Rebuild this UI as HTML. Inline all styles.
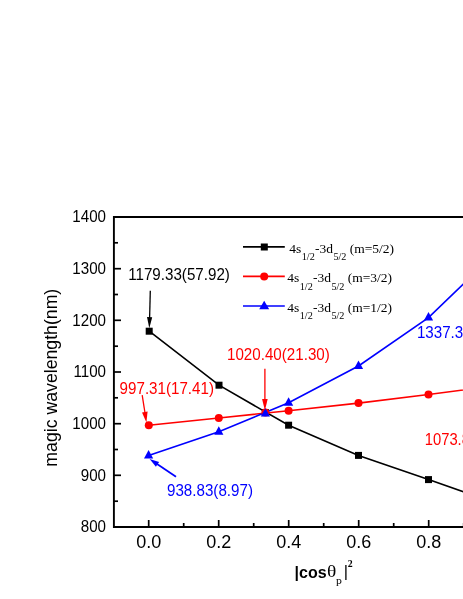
<!DOCTYPE html>
<html><head><meta charset="utf-8"><title>chart</title>
<style>
html,body{margin:0;padding:0;background:#fff;}
body{width:463px;height:599px;overflow:hidden;}
svg{display:block;will-change:transform;}
text{font-family:"Liberation Sans",sans-serif;}
.s{font-family:"Liberation Serif",serif;}
</style></head><body>
<svg width="463" height="599" viewBox="0 0 463 599">
<rect width="463" height="599" fill="#fff"/>
<polyline points="149.2,331.2 219.0,385.2 288.6,425.2 358.5,455.4 428.5,479.6 498.7,504.1" fill="none" stroke="#000" stroke-width="1.6"/>
<polyline points="148.8,425.3 218.8,418.0 288.6,410.7 358.5,403.1 428.5,394.5 498.7,385.3" fill="none" stroke="#f00" stroke-width="1.6"/>
<polyline points="148.6,455.6 218.8,431.8 288.6,402.8 358.5,366.0 428.5,317.6 498.7,249.8" fill="none" stroke="#00f" stroke-width="1.6"/>
<rect x="145.7" y="327.7" width="7.0" height="7.0" fill="#000"/>
<rect x="215.5" y="381.7" width="7.0" height="7.0" fill="#000"/>
<rect x="285.1" y="421.7" width="7.0" height="7.0" fill="#000"/>
<rect x="355.0" y="451.9" width="7.0" height="7.0" fill="#000"/>
<rect x="425.0" y="476.1" width="7.0" height="7.0" fill="#000"/>
<rect x="495.2" y="500.6" width="7.0" height="7.0" fill="#000"/>
<rect x="261.9" y="409.1" width="7.0" height="7.0" fill="#000"/>
<circle cx="148.8" cy="425.3" r="4.0" fill="#f00"/>
<circle cx="218.8" cy="418.0" r="4.0" fill="#f00"/>
<circle cx="288.6" cy="410.7" r="4.0" fill="#f00"/>
<circle cx="358.5" cy="403.1" r="4.0" fill="#f00"/>
<circle cx="428.5" cy="394.5" r="4.0" fill="#f00"/>
<circle cx="498.7" cy="385.3" r="4.0" fill="#f00"/>
<circle cx="265.4" cy="412.6" r="4.0" fill="#f00"/>
<polygon points="148.6,450.1 144.0,458.5 153.2,458.5" fill="#00f"/>
<polygon points="218.8,426.3 214.2,434.7 223.4,434.7" fill="#00f"/>
<polygon points="288.6,397.3 284.0,405.7 293.2,405.7" fill="#00f"/>
<polygon points="358.5,360.5 353.9,368.9 363.1,368.9" fill="#00f"/>
<polygon points="428.5,312.1 423.9,320.5 433.1,320.5" fill="#00f"/>
<polygon points="498.7,244.3 494.1,252.7 503.3,252.7" fill="#00f"/>
<polygon points="265.4,408.0 260.8,416.4 270.0,416.4" fill="#00f"/>
<path d="M113.9,528 V217 H470" fill="none" stroke="#000" stroke-width="1.9"/>
<path d="M113,527 H470" fill="none" stroke="#000" stroke-width="2"/>
<text transform="translate(106.0,532.2) scale(0.948,1)" font-size="16" text-anchor="end">800</text>
<path d="M114,475.3 h7" stroke="#000" stroke-width="1.7"/>
<text transform="translate(106.0,480.5) scale(0.948,1)" font-size="16" text-anchor="end">900</text>
<path d="M114,423.7 h7" stroke="#000" stroke-width="1.7"/>
<text transform="translate(106.0,428.9) scale(0.948,1)" font-size="16" text-anchor="end">1000</text>
<path d="M114,372.0 h7" stroke="#000" stroke-width="1.7"/>
<text transform="translate(106.0,377.2) scale(0.948,1)" font-size="16" text-anchor="end">1100</text>
<path d="M114,320.3 h7" stroke="#000" stroke-width="1.7"/>
<text transform="translate(106.0,325.5) scale(0.948,1)" font-size="16" text-anchor="end">1200</text>
<path d="M114,268.7 h7" stroke="#000" stroke-width="1.7"/>
<text transform="translate(106.0,273.9) scale(0.948,1)" font-size="16" text-anchor="end">1300</text>
<text transform="translate(106.0,222.2) scale(0.948,1)" font-size="16" text-anchor="end">1400</text>
<path d="M114,501.2 h4" stroke="#000" stroke-width="1.7"/>
<path d="M114,449.5 h4" stroke="#000" stroke-width="1.7"/>
<path d="M114,397.8 h4" stroke="#000" stroke-width="1.7"/>
<path d="M114,346.2 h4" stroke="#000" stroke-width="1.7"/>
<path d="M114,294.5 h4" stroke="#000" stroke-width="1.7"/>
<path d="M114,242.8 h4" stroke="#000" stroke-width="1.7"/>
<path d="M148.7,527 v-7" stroke="#000" stroke-width="1.7"/>
<text x="148.7" y="548" font-size="18" text-anchor="middle">0.0</text>
<path d="M218.7,527 v-7" stroke="#000" stroke-width="1.7"/>
<text x="218.7" y="548" font-size="18" text-anchor="middle">0.2</text>
<path d="M288.7,527 v-7" stroke="#000" stroke-width="1.7"/>
<text x="288.7" y="548" font-size="18" text-anchor="middle">0.4</text>
<path d="M358.7,527 v-7" stroke="#000" stroke-width="1.7"/>
<text x="358.7" y="548" font-size="18" text-anchor="middle">0.6</text>
<path d="M428.7,527 v-7" stroke="#000" stroke-width="1.7"/>
<text x="428.7" y="548" font-size="18" text-anchor="middle">0.8</text>
<path d="M183.7,527 v-4" stroke="#000" stroke-width="1.7"/>
<path d="M253.7,527 v-4" stroke="#000" stroke-width="1.7"/>
<path d="M323.7,527 v-4" stroke="#000" stroke-width="1.7"/>
<path d="M393.7,527 v-4" stroke="#000" stroke-width="1.7"/>
<path d="M463.7,527 v-4" stroke="#000" stroke-width="1.7"/>
<text transform="translate(57.4,377.7) rotate(-90)" font-size="17.7" text-anchor="middle">magic wavelength(nm)</text>
<text x="294.6" y="578" font-size="16" font-weight="bold">|cos</text>
<text transform="translate(327.0,577.1) scale(1.2,1)" font-size="16.2" class="s">θ</text>
<text transform="translate(336.0,584.0) scale(1.05,1)" font-size="11.2" class="s">p</text>
<text x="343.7" y="577.4" font-size="16.5">|</text>
<text x="347.8" y="566.9" font-size="9.8" font-weight="bold" class="s">2</text>
<text transform="translate(128.2,280.2) scale(0.948,1)" font-size="16" fill="#000">1179.33(57.92)</text>
<text transform="translate(227,360.2) scale(0.948,1)" font-size="16" fill="#f00">1020.40(21.30)</text>
<text transform="translate(119.6,393.9) scale(0.948,1)" font-size="16" fill="#f00">997.31(17.41)</text>
<text transform="translate(167,495.5) scale(0.948,1)" font-size="16" fill="#00f">938.83(8.97)</text>
<text transform="translate(416.9,337.6) scale(0.948,1)" font-size="16" fill="#00f">1337.3</text>
<text transform="translate(424.7,444.9) scale(0.925,1)" font-size="16" fill="#f00">1073.8</text>
<line x1="150.3" y1="290.8" x2="149.6" y2="318.2" stroke="#000" stroke-width="1.3"/><polygon points="149.3,328.2 147.0,317.1 152.2,317.3" fill="#000"/>
<line x1="264.9" y1="368.7" x2="264.9" y2="399.9" stroke="#f00" stroke-width="1.3"/><polygon points="264.9,410.4 262.1,398.9 267.7,398.9" fill="#f00"/>
<line x1="142.2" y1="395.1" x2="145.0" y2="413.0" stroke="#f00" stroke-width="1.3"/><polygon points="146.4,422.4 142.0,412.4 147.6,411.6" fill="#f00"/>
<line x1="176.0" y1="476.7" x2="156.7" y2="463.7" stroke="#00f" stroke-width="1.7"/><polygon points="149.6,459.0 159.1,461.9 155.9,466.7" fill="#00f"/>
<line x1="243.0" y1="246.8" x2="284.8" y2="246.8" stroke="#000" stroke-width="1.7"/>
<rect x="260.8" y="243.5" width="7.0" height="7.0" fill="#000"/>
<text class="s" x="289.3" y="252.6" font-size="13.5">4s<tspan font-size="10.2" dy="7.5" dx="0.4">1/2</tspan><tspan dy="-7.5" dx="0.3">-3d</tspan><tspan font-size="10.2" dy="7.5" dx="0.4">5/2</tspan><tspan dy="-7.5" dx="-0.2"> (m=5/2)</tspan></text>
<line x1="243.0" y1="276.4" x2="284.8" y2="276.4" stroke="#f00" stroke-width="1.7"/>
<circle cx="264.2" cy="276.4" r="4.0" fill="#f00"/>
<text class="s" x="287.3" y="282.2" font-size="13.5">4s<tspan font-size="10.2" dy="7.5" dx="0.4">1/2</tspan><tspan dy="-7.5" dx="0.3">-3d</tspan><tspan font-size="10.2" dy="7.5" dx="0.4">5/2</tspan><tspan dy="-7.5" dx="-0.2"> (m=3/2)</tspan></text>
<line x1="243.0" y1="306.0" x2="284.8" y2="306.0" stroke="#00f" stroke-width="1.7"/>
<polygon points="264.2,300.7 259.2,309.3 269.2,309.3" fill="#00f"/>
<text class="s" x="287.3" y="311.8" font-size="13.5">4s<tspan font-size="10.2" dy="7.5" dx="0.4">1/2</tspan><tspan dy="-7.5" dx="0.3">-3d</tspan><tspan font-size="10.2" dy="7.5" dx="0.4">5/2</tspan><tspan dy="-7.5" dx="-0.2"> (m=1/2)</tspan></text>
</svg></body></html>
